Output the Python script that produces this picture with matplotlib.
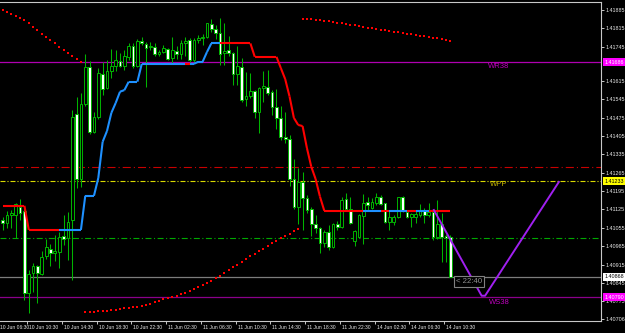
import numpy as np
import matplotlib
matplotlib.use("Agg")
import matplotlib.pyplot as plt
from matplotlib.collections import LineCollection
import matplotlib.transforms as mtrans
from matplotlib.ticker import FormatStrFormatter

plt.rcParams['font.family'] = ['Liberation Sans', 'DejaVu Sans']
plt.rcParams['lines.scale_dashes'] = False

# ---------------- data (GBPUSD M30) ----------------
opens = [1.41085, 1.41075, 1.41104, 1.41104, 1.41136, 1.41119, 1.40808, 1.40884, 1.40909, 1.40879,
         1.40946, 1.40974, 1.40959, 1.40964, 1.41024, 1.41015, 1.41085, 1.41489, 1.41240, 1.41527,
         1.41668, 1.41420, 1.41476, 1.41641, 1.41588, 1.41654, 1.41672, 1.41692, 1.41672, 1.41708,
         1.41748, 1.41672, 1.41768, 1.41756, 1.41746, 1.41746, 1.41718, 1.41726, 1.41736, 1.41701,
         1.41730, 1.41717, 1.41758, 1.41771, 1.41695, 1.41771, 1.41778, 1.41784, 1.41831, 1.41812,
         1.41797, 1.41720, 1.41733, 1.41723, 1.41641, 1.41669, 1.41545, 1.41557, 1.41577, 1.41498,
         1.41589, 1.41593, 1.41574, 1.41514, 1.41472, 1.41402, 1.41394, 1.41240, 1.41135, 1.41228,
         1.41167, 1.41126, 1.41070, 1.41053, 1.40998, 1.41039, 1.40983, 1.41070, 1.41059, 1.41164,
         1.41126, 1.41006, 1.41021, 1.41100, 1.41152, 1.41129, 1.41148, 1.41174, 1.41148, 1.41078,
         1.41078, 1.41097, 1.41171, 1.41116, 1.41095, 1.41095, 1.41104, 1.41123, 1.41104, 1.41116,
         1.41019, 1.41070, 1.41024, 1.41019]
highs = [1.41096, 1.41119, 1.41123, 1.41150, 1.41165, 1.41138, 1.40894, 1.40921, 1.40913, 1.40967,
         1.41012, 1.40993, 1.41028, 1.41039, 1.41104, 1.41116, 1.41504, 1.41553, 1.41568, 1.41718,
         1.41691, 1.41498, 1.41663, 1.41688, 1.41693, 1.41735, 1.41733, 1.41721, 1.41733, 1.41761,
         1.41761, 1.41774, 1.41781, 1.41765, 1.41765, 1.41760, 1.41733, 1.41752, 1.41739, 1.41784,
         1.41748, 1.41771, 1.41781, 1.41778, 1.41778, 1.41790, 1.41794, 1.41837, 1.41850, 1.41828,
         1.41854, 1.41835, 1.41786, 1.41726, 1.41748, 1.41701, 1.41650, 1.41646, 1.41580, 1.41593,
         1.41654, 1.41657, 1.41580, 1.41584, 1.41519, 1.41498, 1.41409, 1.41316, 1.41282, 1.41269,
         1.41180, 1.41133, 1.41104, 1.41057, 1.41047, 1.41066, 1.41073, 1.41082, 1.41174, 1.41189,
         1.41171, 1.41047, 1.41108, 1.41184, 1.41174, 1.41167, 1.41186, 1.41180, 1.41151, 1.41120,
         1.41104, 1.41174, 1.41176, 1.41123, 1.41110, 1.41123, 1.41146, 1.41129, 1.41151, 1.41123,
         1.41161, 1.41110, 1.41031, 1.41028]
lows = [1.41047, 1.41054, 1.41054, 1.41016, 1.41085, 1.40780, 1.40730, 1.40810, 1.40768, 1.40875,
        1.40936, 1.40909, 1.40928, 1.40902, 1.40989, 1.40932, 1.40856, 1.41207, 1.41211, 1.41519,
        1.41413, 1.41415, 1.41470, 1.41561, 1.41584, 1.41626, 1.41653, 1.41668, 1.41657, 1.41695,
        1.41664, 1.41668, 1.41752, 1.41590, 1.41733, 1.41710, 1.41710, 1.41720, 1.41695, 1.41682,
        1.41697, 1.41697, 1.41710, 1.41688, 1.41688, 1.41758, 1.41752, 1.41778, 1.41803, 1.41774,
        1.41676, 1.41676, 1.41710, 1.41599, 1.41599, 1.41536, 1.41519, 1.41549, 1.41472, 1.41415,
        1.41536, 1.41561, 1.41485, 1.41431, 1.41390, 1.41379, 1.41214, 1.41126, 1.41070, 1.41047,
        1.41110, 1.41024, 1.41034, 1.40958, 1.40983, 1.40970, 1.40978, 1.41047, 1.41053, 1.41123,
        1.41070, 1.40986, 1.41015, 1.40993, 1.41123, 1.41126, 1.41142, 1.41142, 1.41072, 1.41047,
        1.41066, 1.41091, 1.41116, 1.41091, 1.41059, 1.41074, 1.41097, 1.41074, 1.41097, 1.41008,
        1.41011, 1.40926, 1.40925, 1.40866]
closes = [1.41073, 1.41104, 1.41110, 1.41146, 1.41110, 1.40808, 1.40879, 1.40911, 1.40883, 1.40944,
          1.40982, 1.40959, 1.40965, 1.41019, 1.41011, 1.41078, 1.41479, 1.41240, 1.41527, 1.41668,
          1.41421, 1.41476, 1.41644, 1.41583, 1.41653, 1.41673, 1.41695, 1.41672, 1.41710, 1.41748,
          1.41672, 1.41768, 1.41758, 1.41742, 1.41750, 1.41718, 1.41726, 1.41741, 1.41700, 1.41731,
          1.41716, 1.41760, 1.41768, 1.41695, 1.41771, 1.41778, 1.41784, 1.41835, 1.41813, 1.41799,
          1.41718, 1.41730, 1.41720, 1.41641, 1.41672, 1.41542, 1.41557, 1.41577, 1.41498, 1.41587,
          1.41596, 1.41570, 1.41514, 1.41472, 1.41402, 1.41394, 1.41240, 1.41133, 1.41231, 1.41167,
          1.41123, 1.41070, 1.41053, 1.40998, 1.41039, 1.40983, 1.41070, 1.41059, 1.41161, 1.41128,
          1.41072, 1.41043, 1.41104, 1.41148, 1.41142, 1.41152, 1.41171, 1.41146, 1.41078, 1.41097,
          1.41095, 1.41171, 1.41120, 1.41095, 1.41108, 1.41108, 1.41123, 1.41104, 1.41116, 1.41019,
          1.41070, 1.41019, 1.41016, 1.40868]

# trailing step indicator (level per bar, +1 = up/blue, -1 = down/red)
trend_level = [1.41139, 1.41139, 1.41139, 1.41139, 1.41139, 1.41139, 1.41047, 1.41047, 1.41047, 1.41047,
               1.41047, 1.41047, 1.41047, 1.41047, 1.41047, 1.41047, 1.41047, 1.41047, 1.41047, 1.41177,
               1.41177, 1.41177, 1.41245, 1.41383, 1.41424, 1.41493, 1.41531, 1.41574, 1.41580, 1.41612,
               1.41612, 1.41612, 1.41680, 1.41680, 1.41680, 1.41680, 1.41680, 1.41680, 1.41680, 1.41680,
               1.41680, 1.41680, 1.41680, 1.41680, 1.41680, 1.41688, 1.41688, 1.41725, 1.41758, 1.41758,
               1.41758, 1.41758, 1.41758, 1.41758, 1.41758, 1.41758, 1.41758, 1.41758, 1.41707, 1.41707,
               1.41707, 1.41707, 1.41707, 1.41707, 1.41664, 1.41622, 1.41556, 1.41474, 1.41447, 1.41443,
               1.41359, 1.41288, 1.41241, 1.41174, 1.41120, 1.41120, 1.41120, 1.41120, 1.41120, 1.41120,
               1.41120, 1.41120, 1.41120, 1.41120, 1.41120, 1.41120, 1.41120, 1.41120, 1.41120, 1.41120,
               1.41120, 1.41120, 1.41120, 1.41120, 1.41120, 1.41120, 1.41120, 1.41120, 1.41120, 1.41120,
               1.41120, 1.41120, 1.41120, 1.41120]
trend_dir = [-1, -1, -1, -1, -1, -1, -1, -1, -1, -1, -1, -1, -1, -1, 1, 1, 1, 1, 1, 1,
             1, 1, 1, 1, 1, 1, 1, 1, 1, 1, 1, 1, 1, 1, 1, 1, 1, 1, 1, 1,
             1, 1, 1, -1, 1, 1, 1, 1, 1, 1, 1, -1, -1, -1, -1, -1, -1, -1, -1, -1,
             -1, -1, -1, -1, -1, -1, -1, -1, -1, -1, -1, -1, -1, -1, -1, -1, -1, -1, -1, -1,
             -1, -1, -1, -1, 1, 1, 1, 1, -1, -1, 1, 1, 1, 1, -1, -1, 1, 1, 1, -1,
             -1, -1, -1, -1]

# parabolic SAR dots
sar = [1.41885, 1.41877, 1.41870, 1.41864, 1.41856, 1.41847, 1.41835, 1.41822, 1.41809, 1.41794,
       1.41784, 1.41771, 1.41758, 1.41745, 1.41733, 1.41723, 1.41710, 1.41697, 1.41687,
       1.40733, 1.40734, 1.40735, 1.40737, 1.40738, 1.40739, 1.40742, 1.40743, 1.40745, 1.40748,
       1.40749, 1.40752, 1.40754, 1.40758, 1.40762, 1.40766, 1.40771, 1.40775, 1.40782, 1.40787,
       1.40792, 1.40796, 1.40803, 1.40808, 1.40814, 1.40821, 1.40828, 1.40837, 1.40845, 1.40853,
       1.40862, 1.40872, 1.40883, 1.40893, 1.40904, 1.40914, 1.40925, 1.40936, 1.40946, 1.40955,
       1.40968, 1.40975, 1.40986, 1.40996, 1.41006, 1.41015, 1.41024, 1.41031, 1.41044, 1.41052,
       1.41852, 1.41851, 1.41850, 1.41848, 1.41846, 1.41845, 1.41842, 1.41840, 1.41837, 1.41836,
       1.41833, 1.41829, 1.41827, 1.41824, 1.41822, 1.41818, 1.41816, 1.41813, 1.41810, 1.41808,
       1.41805, 1.41803, 1.41800, 1.41798, 1.41795, 1.41793, 1.41790, 1.41787, 1.41785, 1.41782,
       1.41780, 1.41778, 1.41775, 1.41772, 1.41768]

ytick_values = [1.41885, 1.41815, 1.41745, 1.41615, 1.41545, 1.41475, 1.41405, 1.41335, 1.41265,
                1.41195, 1.41125, 1.41055, 1.40985, 1.40915, 1.40845, 1.40775, 1.40706]
time_labels = ["10 Jun 06:30", "10 Jun 10:30", "10 Jun 14:30", "10 Jun 18:30", "10 Jun 22:30",
               "11 Jun 02:30", "11 Jun 06:30", "11 Jun 10:30", "11 Jun 14:30", "11 Jun 18:30",
               "11 Jun 22:30", "14 Jun 02:30", "14 Jun 06:30", "14 Jun 10:30"]
time_label_bars = [-2.4, 5.6, 13.6, 21.6, 29.6, 37.6, 45.6, 53.6, 61.6, 69.6, 77.6, 85.6, 93.6, 101.6]

level_wr38 = 1.41686
level_wpp = 1.41233
level_ws38 = 1.40790
level_red = 1.41287
level_green = 1.41015
bid_price = 1.40868

proj_bars = [99.1, 110.2, 111.0, 128.1]
proj_prices = [1.41126, 1.40796, 1.40796, 1.41233]

# ---------------- drawing ----------------
W, H = 625, 333
fig = plt.figure(figsize=(W / 100, H / 100), dpi=100)
fig.patch.set_facecolor('black')
ax = fig.add_axes([0, 12 / H, 601 / W, 319.5 / H])
ax.set_facecolor('black')
ax.set_xlim(-0.62, 137.67)
ax.set_ylim(1.406996, 1.419178)

x = np.arange(len(opens))
o = np.array(opens); c = np.array(closes); h = np.array(highs); l = np.array(lows)

# horizontal levels
ax.axhline(level_red, color='#c80000', lw=0.8, dashes=(5.8, 2.2, 0.8, 2.2), zorder=1)
ax.axhline(level_wpp, color='#d8d800', lw=0.8, dashes=(3.6, 1.4, 0.8, 1.4), zorder=1)
ax.axhline(level_green, color='#00a800', lw=0.8, dashes=(4.3, 1.8, 0.8, 1.8), zorder=1)
ax.axhline(level_wr38, color='#b000b0', lw=0.9, zorder=1)
ax.axhline(level_ws38, color='#8a008a', lw=0.9, zorder=1)
ax.axhline(bid_price, color='#7c7c7c', lw=0.9, zorder=1)

# candles
wick_col = '#00b400'
bull = c >= o
ax.vlines(x, l, h, color=wick_col, lw=0.75, zorder=3)
bottoms = np.minimum(o, c)
heights = np.abs(c - o)
ax.bar(x[bull], heights[bull], bottom=bottoms[bull], width=0.62, color='black',
       edgecolor=wick_col, linewidth=0.7, zorder=4)
ax.bar(x[~bull], heights[~bull], bottom=bottoms[~bull], width=0.62, color='white',
       edgecolor=wick_col, linewidth=0.7, zorder=4)

# step trend line
pts = np.column_stack([x, trend_level])
segs = [pts[i - 1:i + 1] for i in range(1, len(x))]
cols = ['#1e90ff' if trend_dir[i] > 0 else '#ff0000' for i in range(1, len(x))]
ax.add_collection(LineCollection(segs, colors=cols, linewidths=1.5, zorder=6, capstyle='butt'))

# SAR dots
ax.plot(x, sar, linestyle='none', marker='s', ms=1.6, mew=0, color='#ff0000', zorder=6)

# projection zigzag
ax.plot(proj_bars, proj_prices, color='#a020f0', lw=1.4, zorder=7, solid_capstyle='butt')

# level labels
ax.text(111.7, 1.41669, 'WR38', color='#c000c0', fontsize=5.5, ha='left', va='center', zorder=8)
ax.text(112.1, 1.41221, 'WPP', color='#c8b800', fontsize=5.5, ha='left', va='center', zorder=8)
ax.text(111.8, 1.40772, 'WS38', color='#c000c0', fontsize=5.5, ha='left', va='center', zorder=8)
ax.text(107.4, 1.40849, '< 22:40', color='#909090', fontsize=5.6, ha='center', va='center', zorder=8,
        bbox=dict(boxstyle='square,pad=0.25', fc='black', ec='#808080', lw=0.8))

# axes styling
for side in ['top', 'right', 'bottom']:
    ax.spines[side].set_color('#c8c8c8')
    ax.spines[side].set_linewidth(0.8)
ax.spines['left'].set_visible(False)

ax.yaxis.tick_right()
ax.set_yticks(ytick_values)
ax.yaxis.set_major_formatter(FormatStrFormatter('%.5f'))
ax.tick_params(axis='y', labelsize=3.9, colors='#e8e8e8', length=1.8, width=0.6, pad=1.2)

ax.set_xticks(time_label_bars[1:])
ax.set_xticklabels(time_labels[1:])
ax.tick_params(axis='x', labelsize=3.6, colors='#e8e8e8', length=2.0, width=0.6, pad=0.8)
off = mtrans.ScaledTranslation(2 / 100, 0, fig.dpi_scale_trans)
for lab in ax.get_xticklabels():
    lab.set_ha('left')
    lab.set_transform(lab.get_transform() + off)
# first time label: its tick lies just left of the chart, keep the text inside the picture
ax.text(0.0, -0.0125, time_labels[0], transform=ax.transAxes, fontsize=3.6,
        color='#e8e8e8', ha='left', va='top', clip_on=False)

# highlighted price labels on the right axis
yt = mtrans.blended_transform_factory(ax.transAxes, ax.transData)
for price, bg, fg in [(level_wr38, '#ff00ff', 'white'), (level_wpp, '#ffff00', 'black'),
                      (bid_price, '#ffffff', 'black'), (level_ws38, '#ff00ff', 'white')]:
    ax.text(1.006, price, '%.5f' % price, transform=yt, fontsize=3.9, color=fg,
            ha='left', va='center', clip_on=False, zorder=10,
            bbox=dict(boxstyle='square,pad=0.25', fc=bg, ec='none'))

fig.savefig('out.png', dpi=100, facecolor='black')
